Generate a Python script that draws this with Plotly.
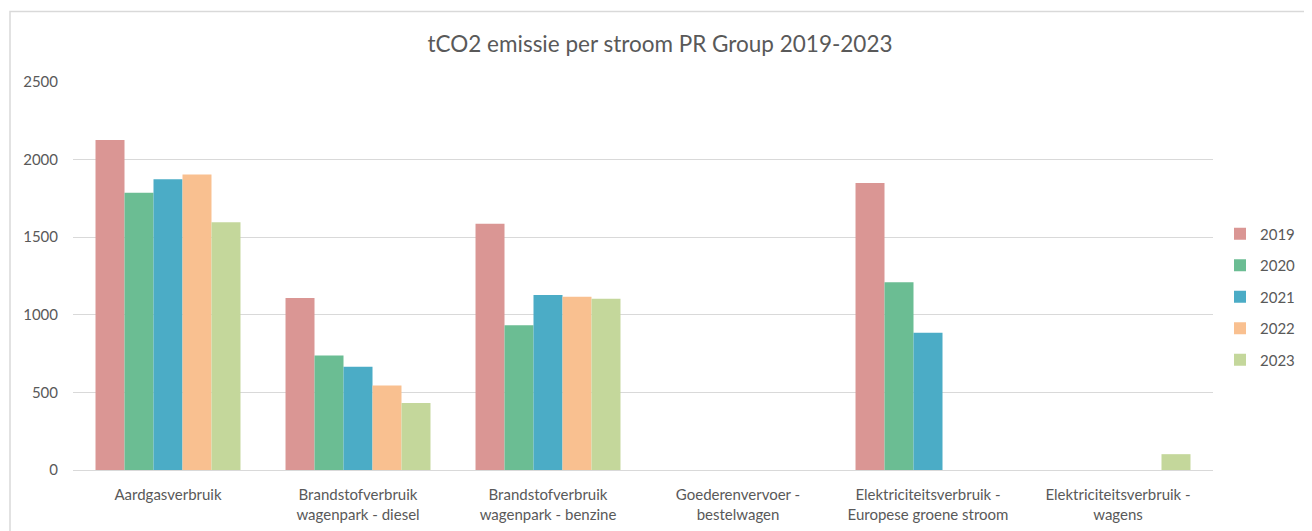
import plotly.graph_objects as go

categories = [
    "Aardgasverbruik",
    "Brandstofverbruik<br>wagenpark - diesel",
    "Brandstofverbruik<br>wagenpark - benzine",
    "Goederenvervoer -<br>bestelwagen",
    "Elektriciteitsverbruik -<br>Europese groene stroom",
    "Elektriciteitsverbruik -<br>wagens",
]
years = ["2019", "2020", "2021", "2022", "2023"]
values_2019 = [2127, 1108, 1586, 0, 1850, 0]
values_2020 = [1786, 737, 932, 0, 1209, 0]
values_2021 = [1874, 666, 1127, 0, 885, 0]
values_2022 = [1904, 544, 1117, 0, 0, 0]
values_2023 = [1597, 432, 1104, 0, 0, 102]
colors = ["#DA9694", "#6BBD93", "#4BACC6", "#F9C090", "#C4D79B"]

series = [values_2019, values_2020, values_2021, values_2022, values_2023]

# page body has an 8px margin; figure coordinates are compensated for it
W, H = 1304, 523
L, T = 65, 74
R, B = W - 1205, H - 462.5
PW, PH = W - L - R, H - T - B

fig = go.Figure()
for i, (yr, vals) in enumerate(zip(years, series)):
    fig.add_trace(go.Bar(
        x=categories, y=vals, name=yr,
        marker=dict(color=colors[i], line=dict(width=0)),
        legendgroup=yr,
    ))

font_family = "Lato, 'Open Sans', sans-serif"
fig.update_layout(
    width=W, height=H,
    barmode="group", bargap=0.237, bargroupgap=0,
    paper_bgcolor="white", plot_bgcolor="white",
    margin=dict(l=L, r=R, t=T, b=B, autoexpand=False),
    font=dict(family=font_family, color="#595959", size=14),
    title=dict(text="tCO2 emissie per stroom PR Group 2019-2023",
               x=0.5, xanchor="center", yref="container", y=1 - 36 / H, yanchor="middle",
               font=dict(size=22.5, color="#595959", family=font_family)),
    legend=dict(xref="container", x=1212 / W, xanchor="left",
                yref="container", y=1 - 289 / H, yanchor="middle",
                font=dict(size=15, color="#595959"),
                tracegroupgap=9, bgcolor="rgba(0,0,0,0)"),
    showlegend=True,
)
fig.update_yaxes(range=[0, 2500], dtick=500, showgrid=True, gridcolor="#D9D9D9",
                 gridwidth=1, zeroline=True, zerolinecolor="#D9D9D9", zerolinewidth=1,
                 showline=False, ticks="", ticklabelstandoff=14, automargin=False,
                 tickfont=dict(size=15, color="#595959"))
fig.update_xaxes(showline=False, ticks="", tickfont=dict(size=15, color="#595959"),
                 showgrid=False, tickangle=0, automargin=False, ticklabelstandoff=14)
fig.add_shape(type="rect", xref="paper", yref="paper",
              x0=(2 - L) / PW, x1=(1302 - L) / PW,
              y0=-0.3, y1=(462.5 - 3.5) / PH,
              line=dict(color="#D9D9D9", width=1.5), fillcolor="rgba(0,0,0,0)", layer="below")

fig.write_html("out.html")
